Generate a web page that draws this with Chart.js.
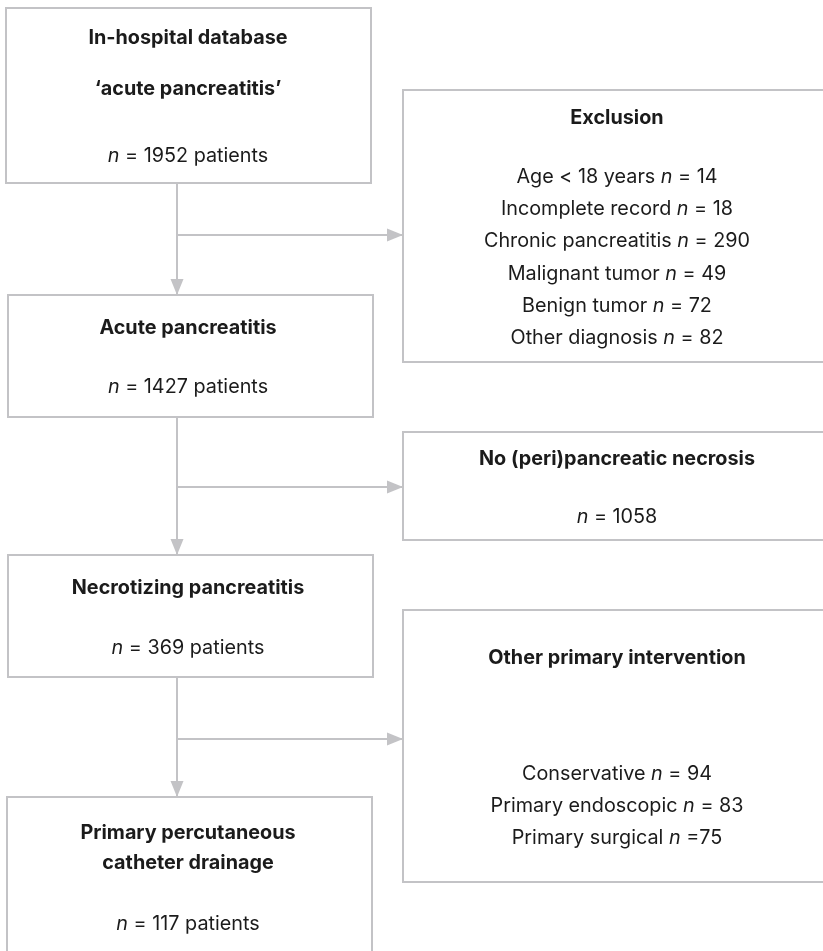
<!DOCTYPE html>
<html>
<head>
<meta charset="utf-8">
<title>Patient flow chart</title>
<script src="https://cdn.jsdelivr.net/npm/chart.js@4.4.1/dist/chart.umd.min.js"></script>
<style>
    html, body { margin: 0; padding: 0; background: #ffffff; }
    #flowChart { display: block; }
</style>
</head>
<body>
<canvas id="flowChart" width="823" height="951"></canvas>
<script>
'use strict';

// Main stages (left column)
var stageTitles = [
    ['In-hospital database', '\u2018acute pancreatitis\u2019'],
    ['Acute pancreatitis'],
    ['Necrotizing pancreatitis'],
    ['Primary percutaneous', 'catheter drainage']
];
var stageCounts = [1952, 1427, 369, 117];

// Removed at each step (right column)
var sideTitles = ['Exclusion', 'No (peri)pancreatic necrosis', 'Other primary intervention'];
var sideReasons = [
    ['Age < 18 years', 'Incomplete record', 'Chronic pancreatitis', 'Malignant tumor', 'Benign tumor', 'Other diagnosis'],
    [''],
    ['Conservative', 'Primary endoscopic', 'Primary surgical']
];
var sideCounts = [
    [14, 18, 290, 49, 72, 82],
    [1058],
    [94, 83, 75]
];
var tightEquals = ['Primary surgical'];

// Layout (chart units = pixels, y downwards)
var stageBoxes = [
    { x0: 6, y0: 8, x1: 371, y1: 183, lines: [38, 89], count: 156 },
    { x0: 8, y0: 295, x1: 373, y1: 417, lines: [328], count: 387 },
    { x0: 8, y0: 555, x1: 373, y1: 677, lines: [588], count: 648 },
    { x0: 7, y0: 797, x1: 372, y1: 965, lines: [833, 863], count: 924 }
];
var sideBoxes = [
    { x0: 403, y0: 90, x1: 845, y1: 362, title: 118, first: 177, step: 32.2 },
    { x0: 403, y0: 432, x1: 845, y1: 540, title: 459, first: 517, step: 32 },
    { x0: 403, y0: 610, x1: 845, y1: 882, title: 658, first: 774, step: 32 }
];
var spineX = 177;
var branchY = [235, 487, 739];
var stageCx = 188;
var sideCx = 617;

var lineColor = '#c3c3c6';
var textColor = '#1b1b1b';
var fontFamily = 'Inter, "Noto Sans", sans-serif';
var fontSize = 19.8;

// Connectors as line datasets, arrow heads are added by the plugin
var connectors = [];
for (var i = 0; i < 3; i++) {
    connectors.push([{ x: spineX, y: stageBoxes[i].y1 }, { x: spineX, y: stageBoxes[i + 1].y0 }]);
    connectors.push([{ x: spineX, y: branchY[i] }, { x: sideBoxes[i].x0, y: branchY[i] }]);
}

function countLine(ctx, label, count, tight, cx, cy, sx, sy) {
    var pre = label ? label + ' ' : '';
    var post = (tight ? ' =' : ' = ') + count;
    ctx.font = fontSize + 'px ' + fontFamily;
    var wPre = ctx.measureText(pre).width;
    var wPost = ctx.measureText(post).width;
    ctx.font = 'italic ' + fontSize + 'px ' + fontFamily;
    var wN = ctx.measureText('n').width;
    var x = sx.getPixelForValue(cx) - (wPre + wN + wPost) / 2;
    var y = sy.getPixelForValue(cy);
    ctx.textAlign = 'left';
    ctx.font = fontSize + 'px ' + fontFamily;
    ctx.fillText(pre, x, y);
    ctx.font = 'italic ' + fontSize + 'px ' + fontFamily;
    ctx.fillText('n', x + wPre, y);
    ctx.font = fontSize + 'px ' + fontFamily;
    ctx.fillText(post, x + wPre + wN, y);
}

var flowPlugin = {
    id: 'flowBoxes',
    afterDatasetsDraw: function (chart) {
        var ctx = chart.ctx;
        var sx = chart.scales.x;
        var sy = chart.scales.y;
        ctx.save();

        // Boxes
        ctx.strokeStyle = lineColor;
        ctx.lineWidth = 2;
        stageBoxes.concat(sideBoxes).forEach(function (b) {
            var x0 = sx.getPixelForValue(b.x0), x1 = sx.getPixelForValue(b.x1);
            var y0 = sy.getPixelForValue(b.y0), y1 = sy.getPixelForValue(b.y1);
            ctx.strokeRect(x0, y0, x1 - x0, y1 - y0);
        });

        // Arrow heads
        ctx.fillStyle = lineColor;
        connectors.forEach(function (pts) {
            var a = pts[0], b = pts[pts.length - 1];
            var px = sx.getPixelForValue(b.x), py = sy.getPixelForValue(b.y);
            var ang = Math.atan2(sy.getPixelForValue(b.y) - sy.getPixelForValue(a.y),
                sx.getPixelForValue(b.x) - sx.getPixelForValue(a.x));
            ctx.save();
            ctx.translate(px, py);
            ctx.rotate(ang);
            ctx.beginPath();
            ctx.moveTo(0, 0);
            ctx.lineTo(-16, -6.5);
            ctx.lineTo(-16, 6.5);
            ctx.closePath();
            ctx.fill();
            ctx.restore();
        });

        // Texts
        ctx.fillStyle = textColor;
        ctx.textBaseline = 'middle';
        stageBoxes.forEach(function (b, i) {
            ctx.textAlign = 'center';
            ctx.font = 'bold ' + fontSize + 'px ' + fontFamily;
            stageTitles[i].forEach(function (t, j) {
                ctx.fillText(t, sx.getPixelForValue(stageCx), sy.getPixelForValue(b.lines[j]));
            });
            countLine(ctx, '', stageCounts[i] + ' patients', false, stageCx, b.count, sx, sy);
        });
        sideBoxes.forEach(function (b, i) {
            ctx.textAlign = 'center';
            ctx.font = 'bold ' + fontSize + 'px ' + fontFamily;
            ctx.fillText(sideTitles[i], sx.getPixelForValue(sideCx), sy.getPixelForValue(b.title));
            sideReasons[i].forEach(function (r, j) {
                countLine(ctx, r, sideCounts[i][j], tightEquals.indexOf(r) >= 0,
                    sideCx, b.first + j * b.step, sx, sy);
            });
        });
        ctx.restore();
    }
};

new Chart(document.getElementById('flowChart'), {
    type: 'scatter',
    data: {
        datasets: connectors.map(function (pts) {
            return {
                data: pts,
                showLine: true,
                borderColor: lineColor,
                borderWidth: 2,
                pointRadius: 0,
                pointHoverRadius: 0
            };
        })
    },
    options: {
        responsive: false,
        animation: false,
        events: [],
        layout: { padding: 0 },
        plugins: {
            legend: { display: false },
            tooltip: { enabled: false }
        },
        scales: {
            x: { type: 'linear', min: 0, max: 823, display: false },
            y: { type: 'linear', min: 0, max: 951, reverse: true, display: false }
        }
    },
    plugins: [flowPlugin]
});
</script>
</body>
</html>
